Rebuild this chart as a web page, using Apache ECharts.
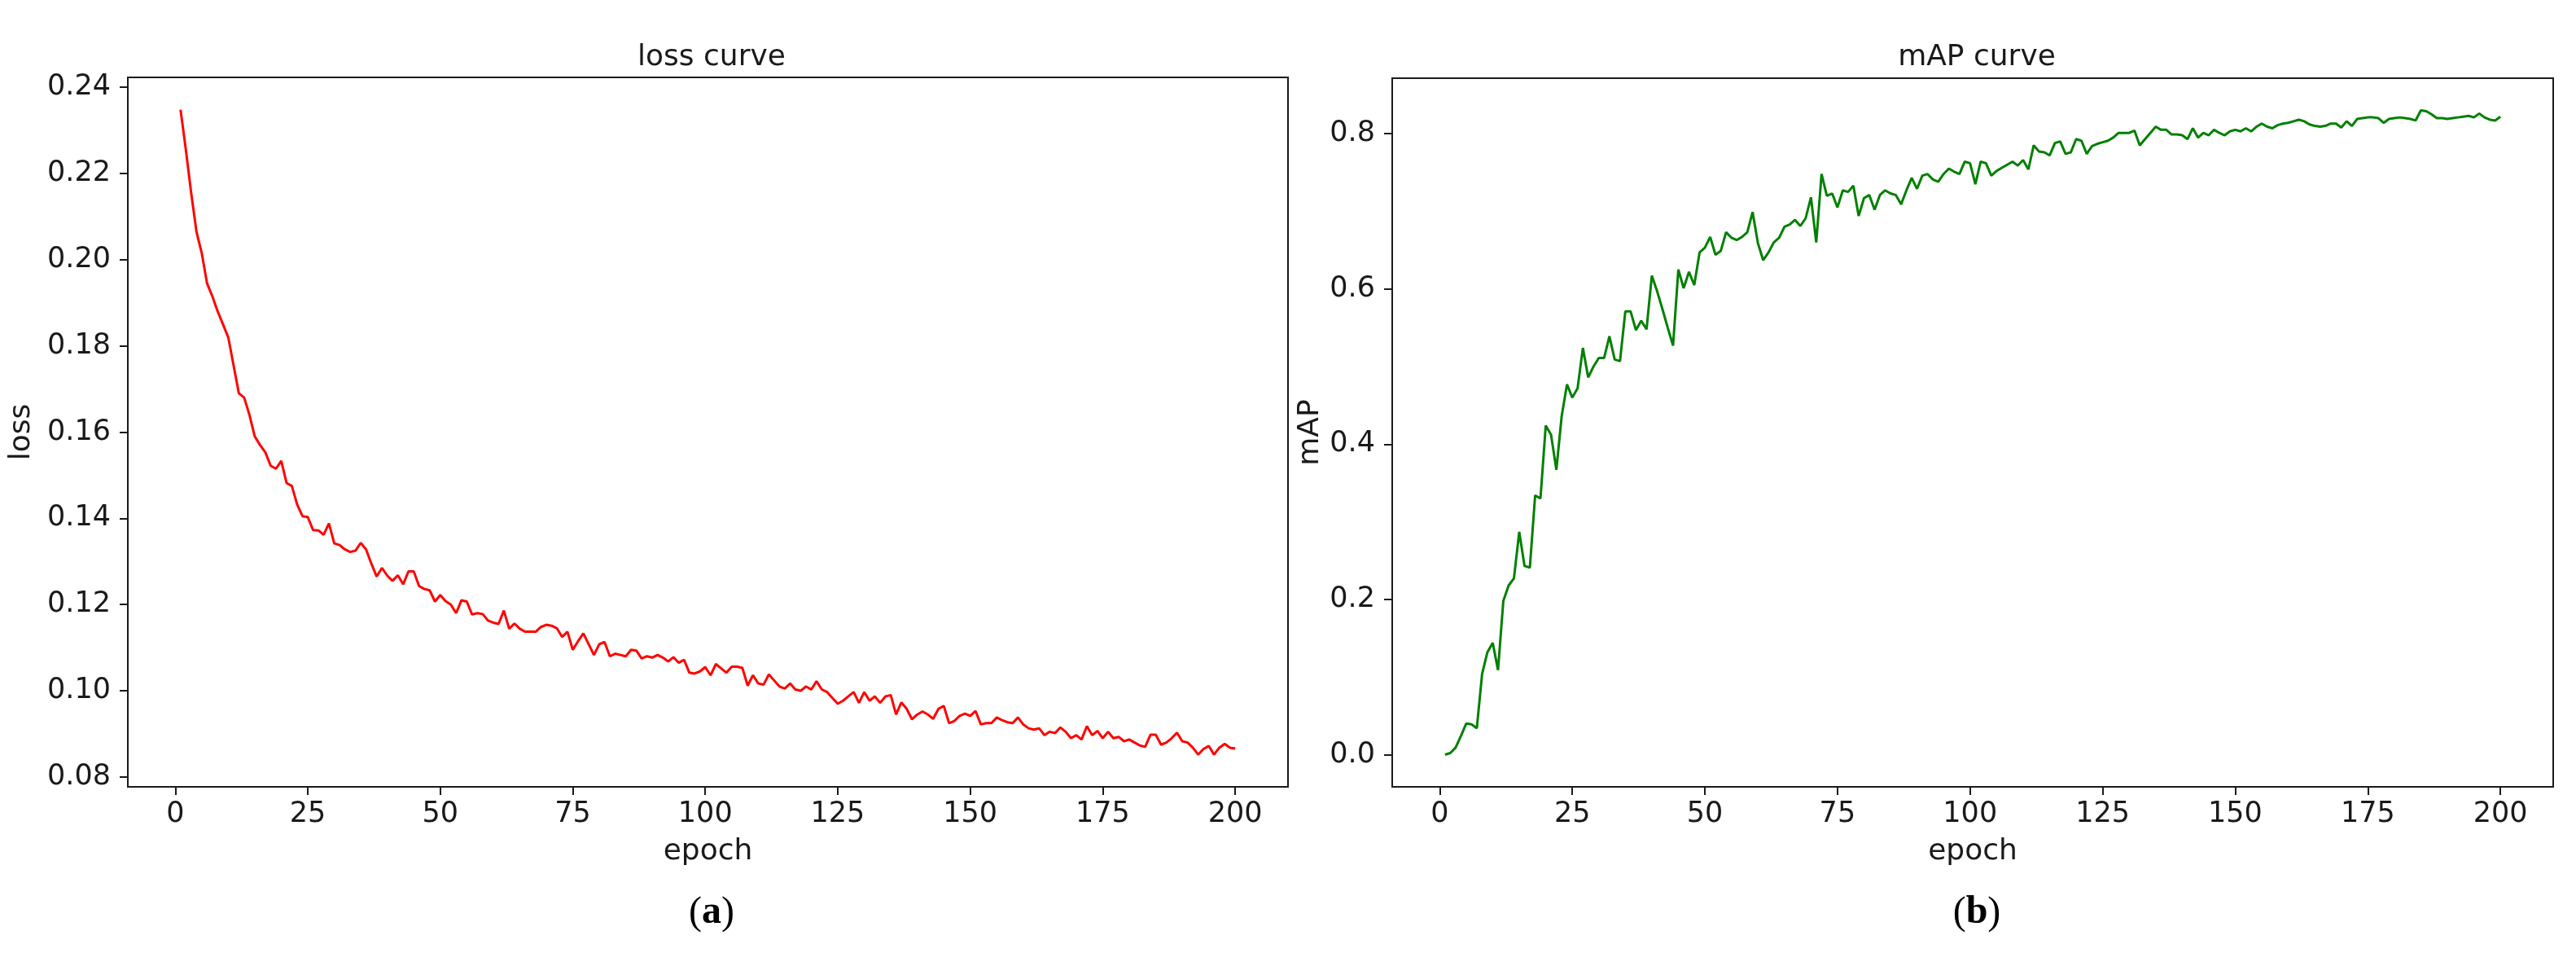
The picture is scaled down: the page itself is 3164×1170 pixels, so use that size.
<!DOCTYPE html>
<html>
<head>
<meta charset="utf-8">
<title>loss / mAP curves</title>
<script src="https://cdn.jsdelivr.net/npm/echarts@6/dist/echarts.min.js"></script>
<style>
  html, body { margin: 0; padding: 0; background: #fff; }
  #chart { width: 3164px; height: 1170px; }
</style>
</head>
<body>
<div id="chart"></div>
<script>
// values, epoch 1..200
const lossValues = [
  0.2348, 0.2255, 0.2155, 0.2065, 0.2015, 0.1945, 0.1915, 0.1880, 0.1850, 0.1820,
  0.1755, 0.1690, 0.1680, 0.1640, 0.1590, 0.1570, 0.1553, 0.1522, 0.1515, 0.1533,
  0.1482, 0.1475, 0.1432, 0.1405, 0.1403, 0.1373, 0.1372, 0.1362, 0.1388, 0.1342,
  0.1338, 0.1328, 0.1322, 0.1325, 0.1343, 0.1328, 0.1295, 0.1265, 0.1285, 0.1267,
  0.1255, 0.1268, 0.1247, 0.1277, 0.1277, 0.1243, 0.1236, 0.1233, 0.1207, 0.1222,
  0.1208, 0.1200, 0.1180, 0.1210, 0.1207, 0.1177, 0.1180, 0.1178, 0.1163, 0.1158,
  0.1155, 0.1186, 0.1144, 0.1156, 0.1144, 0.1137, 0.1137, 0.1137, 0.1148, 0.1153,
  0.1151, 0.1145, 0.1125, 0.1137, 0.1095, 0.1115, 0.1133, 0.1108, 0.1083, 0.1108,
  0.1113, 0.1080, 0.1086, 0.1083, 0.1080, 0.1095, 0.1093, 0.1075, 0.1080, 0.1077,
  0.1083, 0.1077, 0.1068, 0.1078, 0.1065, 0.1072, 0.1042, 0.1040, 0.1045, 0.1055,
  0.1036, 0.1062, 0.1052, 0.1042, 0.1056, 0.1056, 0.1053, 0.1012, 0.1036, 0.1017,
  0.1014, 0.1038, 0.1024, 0.1010, 0.1005, 0.1017, 0.1003, 0.1000, 0.1010, 0.1003,
  0.1022, 0.1003, 0.0997, 0.0983, 0.0970, 0.0977, 0.0987, 0.0997, 0.0972, 0.0997,
  0.0977, 0.0987, 0.0972, 0.0987, 0.0990, 0.0945, 0.0973, 0.0958, 0.0934, 0.0945,
  0.0952, 0.0945, 0.0935, 0.0958, 0.0965, 0.0925, 0.0930, 0.0942, 0.0947, 0.0942,
  0.0953, 0.0922, 0.0925, 0.0925, 0.0938, 0.0932, 0.0927, 0.0925, 0.0938, 0.0922,
  0.0913, 0.0910, 0.0913, 0.0897, 0.0905, 0.0902, 0.0915, 0.0905, 0.0890, 0.0897,
  0.0887, 0.0918, 0.0897, 0.0907, 0.0890, 0.0905, 0.0890, 0.0893, 0.0883, 0.0887,
  0.0880, 0.0873, 0.0870, 0.0898, 0.0898, 0.0875, 0.0880, 0.0890, 0.0903, 0.0883,
  0.0880, 0.0868, 0.0852, 0.0865, 0.0872, 0.0852, 0.0868, 0.0877, 0.0868, 0.0866
]

const mapValues = [
  0.000, 0.002, 0.009, 0.024, 0.040, 0.039, 0.034, 0.104, 0.132, 0.144,
  0.109, 0.198, 0.218, 0.227, 0.287, 0.243, 0.241, 0.334, 0.330, 0.424,
  0.412, 0.367, 0.436, 0.477, 0.460, 0.472, 0.524, 0.486, 0.500, 0.511,
  0.511, 0.539, 0.509, 0.507, 0.571, 0.571, 0.547, 0.559, 0.548, 0.617,
  0.597, 0.574, 0.550, 0.527, 0.625, 0.601, 0.622, 0.605, 0.647, 0.653,
  0.667, 0.644, 0.649, 0.673, 0.666, 0.663, 0.667, 0.673, 0.699, 0.659,
  0.637, 0.647, 0.660, 0.666, 0.680, 0.683, 0.689, 0.681, 0.691, 0.718,
  0.660, 0.748, 0.720, 0.723, 0.705, 0.727, 0.725, 0.733, 0.694, 0.717,
  0.721, 0.702, 0.721, 0.727, 0.723, 0.721, 0.709, 0.727, 0.743, 0.729,
  0.746, 0.748, 0.741, 0.738, 0.748, 0.755, 0.751, 0.748, 0.764, 0.762,
  0.735, 0.764, 0.762, 0.746, 0.752, 0.756, 0.760, 0.764, 0.759, 0.766,
  0.754, 0.785, 0.777, 0.776, 0.772, 0.788, 0.790, 0.774, 0.776, 0.793,
  0.791, 0.774, 0.784, 0.787, 0.789, 0.791, 0.795, 0.801, 0.801, 0.801,
  0.804, 0.785, 0.793, 0.801, 0.809, 0.805, 0.805, 0.799, 0.799, 0.798,
  0.793, 0.807, 0.795, 0.801, 0.798, 0.805, 0.801, 0.798, 0.803, 0.805,
  0.803, 0.807, 0.803, 0.809, 0.813, 0.809, 0.807, 0.811, 0.813, 0.814,
  0.816, 0.818, 0.816, 0.812, 0.810, 0.809, 0.810, 0.813, 0.813, 0.808,
  0.816, 0.810, 0.819, 0.820, 0.821, 0.821, 0.820, 0.814, 0.819, 0.820,
  0.821, 0.820, 0.819, 0.817, 0.830, 0.829, 0.825, 0.820, 0.820, 0.819,
  0.820, 0.821, 0.822, 0.823, 0.821, 0.826, 0.821, 0.818, 0.817, 0.822
]

const epochTicks = [0, 25, 50, 75, 100, 125, 150, 175, 200]
const lossTicks = [0.08, 0.10, 0.12, 0.14, 0.16, 0.18, 0.20, 0.22, 0.24]
const mapTicks = [0.0, 0.2, 0.4, 0.6, 0.8]

const FONT = 'DejaVu Sans'
const INK = '#1a1a1a'

const chart = echarts.init(document.getElementById('chart'), null, { renderer: 'canvas' })

// matplotlib-like 5% padding around the data
function padded(values) {
  const lo = Math.min(...values), hi = Math.max(...values)
  const pad = (hi - lo) * 0.05
  return [lo - pad, hi + pad]
}

function xAxisFor(gridIndex) {
  const n = lossValues.length
  const pad = (n - 1) * 0.05
  return {
    type: 'value',
    gridIndex,
    min: 1 - pad,
    max: n + pad,
    name: 'epoch',
    nameLocation: 'middle',
    nameGap: 62,
    nameTextStyle: { color: INK, fontFamily: FONT, fontSize: 36 },
    axisLine: { show: false, onZero: false },
    splitLine: { show: false },
    axisTick: { show: true, length: 10, lineStyle: { color: INK, width: 2 }, customValues: epochTicks },
    axisLabel: { color: INK, fontFamily: FONT, fontSize: 35, margin: 16, customValues: epochTicks },
  }
}

function yAxisFor(gridIndex, values, ticks, digits, name, nameGap) {
  const [lo, hi] = padded(values)
  return {
    type: 'value',
    gridIndex,
    min: lo,
    max: hi,
    name,
    nameLocation: 'middle',
    nameGap,
    nameTextStyle: { color: INK, fontFamily: FONT, fontSize: 36 },
    axisLine: { show: false, onZero: false },
    splitLine: { show: false },
    axisTick: { show: true, length: 10, lineStyle: { color: INK, width: 2 }, customValues: ticks },
    axisLabel: {
      color: INK, fontFamily: FONT, fontSize: 35, margin: 21,
      customValues: ticks,
      formatter: (v) => v.toFixed(digits),
    },
  }
}

const caption = (letter, x) => ({
  text: '{p|(}{b|' + letter + '}{p|)}',
  left: x,
  top: 1092,
  textAlign: 'center',
  textStyle: {
    rich: {
      p: { fontFamily: 'Liberation Serif', fontSize: 48, fontWeight: 'normal', color: '#000' },
      b: { fontFamily: 'Liberation Serif', fontSize: 48, fontWeight: 'bold', color: '#000' },
    },
  },
})

chart.setOption({
  animation: false,
  backgroundColor: '#fff',
  title: [
    { text: 'loss curve', left: 869, top: 48, textAlign: 'center',
      textStyle: { color: INK, fontFamily: FONT, fontSize: 36, fontWeight: 'normal' } },
    { text: 'mAP curve', left: 2423, top: 48, textAlign: 'center',
      textStyle: { color: INK, fontFamily: FONT, fontSize: 36, fontWeight: 'normal' } },
    caption('a', 869),
    caption('b', 2423),
  ],
  grid: [
    { left: 157, top: 95, width: 1425, height: 871, show: true, borderColor: INK, borderWidth: 2, backgroundColor: 'transparent' },
    { left: 1710, top: 96, width: 1426, height: 870, show: true, borderColor: INK, borderWidth: 2, backgroundColor: 'transparent' },
  ],
  xAxis: [xAxisFor(0), xAxisFor(1)],
  yAxis: [
    yAxisFor(0, lossValues, lossTicks, 2, 'loss', 112),
    yAxisFor(1, mapValues, mapTicks, 1, 'mAP', 82),
  ],
  series: [
    {
      name: 'loss',
      type: 'line',
      xAxisIndex: 0,
      yAxisIndex: 0,
      data: lossValues.map((v, i) => [i + 1, v]),
      symbol: 'none',
      lineStyle: { color: '#ff0000', width: 3 },
      itemStyle: { color: '#ff0000' },
    },
    {
      name: 'mAP',
      type: 'line',
      xAxisIndex: 1,
      yAxisIndex: 1,
      data: mapValues.map((v, i) => [i + 1, v]),
      symbol: 'none',
      lineStyle: { color: '#008000', width: 3 },
      itemStyle: { color: '#008000' },
    },
  ],
})
</script>
</body>
</html>
